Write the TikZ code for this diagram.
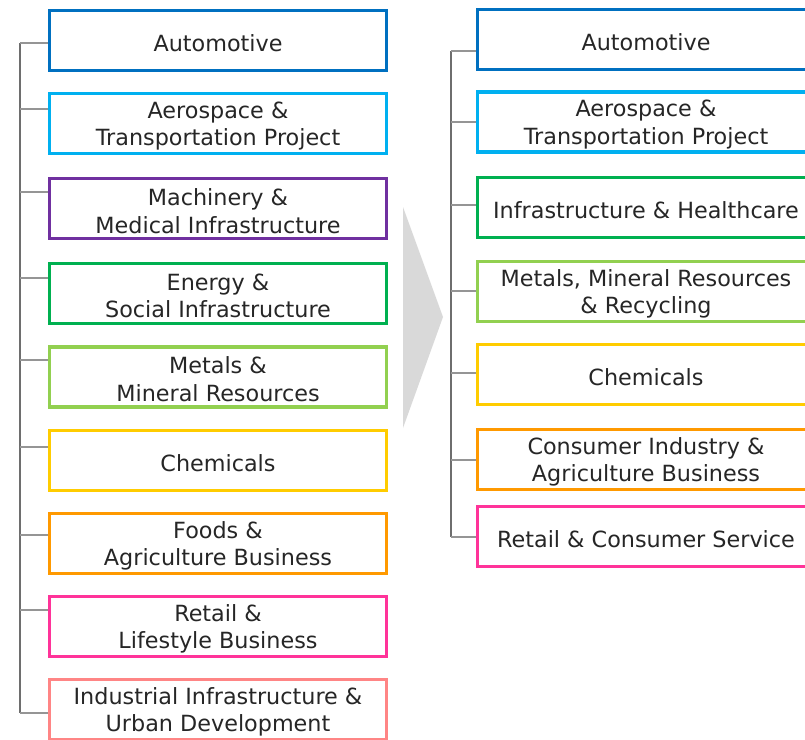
\documentclass[tikz,border=0pt]{standalone}
\usepackage{fontspec}
\setmainfont{DejaVu Sans}
\definecolor{cAuto}{HTML}{0070C0}
\definecolor{cAero}{HTML}{00B0F0}
\definecolor{cMach}{HTML}{7030A0}
\definecolor{cGreen}{HTML}{00B050}
\definecolor{cLime}{HTML}{92D050}
\definecolor{cYel}{HTML}{FFCC00}
\definecolor{cOra}{HTML}{FF9900}
\definecolor{cPink}{HTML}{FF3399}
\definecolor{cSalm}{HTML}{FF8585}
\definecolor{txt}{HTML}{262626}
\definecolor{arrowgray}{HTML}{D9D9D9}
\definecolor{spinegray}{HTML}{6E6E6E}
\definecolor{tickgray}{HTML}{959595}
\begin{document}
\begin{tikzpicture}[x=1pt,y=-1pt,
  box/.style={draw, line width=3.4pt, minimum width=337pt, minimum height=60pt,
    inner sep=0pt, fill=white},
  lbl/.style={align=center, inner sep=0pt, text=txt, yshift=-2.5pt,
    font=\fontsize{22.3}{27.5}\selectfont},
  spine/.style={draw=spinegray, line width=1.2pt},
  tick/.style={draw=tickgray, line width=1.2pt}]
\useasboundingbox (0,0) rectangle (805,739);
\begin{scope}
\clip (0,0) rectangle (805,739);
% arrow
\fill[arrowgray] (403,207) -- (443,317) -- (403,428) -- cycle;
% left column
\node[box, draw=cAuto, label={[lbl]center:Automotive}] (L1) at (218,40.5) {};
\node[box, draw=cAero, label={[lbl]center:{Aerospace \&\\Transportation Project}}] (L2) at (218,123.5) {};
\node[box, draw=cMach, label={[lbl]center:{Machinery \&\\Medical Infrastructure}}] (L3) at (218,208.5) {};
\node[box, draw=cGreen, label={[lbl]center:{Energy \&\\Social Infrastructure}}] (L4) at (218,293.5) {};
\node[box, draw=cLime, label={[lbl]center:{Metals \&\\Mineral Resources}}] (L5) at (218,376.8) {};
\node[box, draw=cYel, label={[lbl]center:Chemicals}] (L6) at (218,460.5) {};
\node[box, draw=cOra, label={[lbl]center:{Foods \&\\Agriculture Business}}] (L7) at (218,543.5) {};
\node[box, draw=cPink, label={[lbl]center:{Retail \&\\Lifestyle Business}}] (L8) at (218,626.5) {};
\node[box, draw=cSalm, label={[lbl]center:{Industrial Infrastructure \&\\Urban Development}}] (L9) at (218,709.5) {};
% right column
\node[box, draw=cAuto, label={[lbl]center:Automotive}] (R1) at (646,39.5) {};
\node[box, draw=cAero, label={[lbl]center:{Aerospace \&\\Transportation Project}}] (R2) at (646,122) {};
\node[box, draw=cGreen, label={[lbl]center:{Infrastructure \& Healthcare}}] (R3) at (646,207.3) {};
\node[box, draw=cLime, label={[lbl]center:{Metals, Mineral Resources\\\& Recycling}}] (R4) at (646,291.5) {};
\node[box, draw=cYel, label={[lbl]center:Chemicals}] (R5) at (646,374.6) {};
\node[box, draw=cOra, label={[lbl]center:{Consumer Industry \&\\Agriculture Business}}] (R6) at (646,459.2) {};
\node[box, draw=cPink, label={[lbl]center:{Retail \& Consumer Service}}] (R7) at (646,536.7) {};
% left tree
\coordinate (l1) at (20,43);
\coordinate (l2) at (20,109);
\coordinate (l3) at (20,192);
\coordinate (l4) at (20,278);
\coordinate (l5) at (20,360);
\coordinate (l6) at (20,447);
\coordinate (l7) at (20,535);
\coordinate (l8) at (20,610);
\coordinate (l9) at (20,713);
\draw[spine] (l1) -- (l9);
\foreach \i in {1,...,9} {\draw[tick] (l\i) -- (l\i -| L\i.west);}
% right tree
\coordinate (r1) at (451,51);
\coordinate (r2) at (451,122);
\coordinate (r3) at (451,205);
\coordinate (r4) at (451,291);
\coordinate (r5) at (451,373);
\coordinate (r6) at (451,460);
\coordinate (r7) at (451,537);
\draw[spine] (r1) -- (r7);
\foreach \i in {1,...,7} {\draw[tick] (r\i) -- (r\i -| R\i.west);}
\end{scope}
\end{tikzpicture}
\end{document}
